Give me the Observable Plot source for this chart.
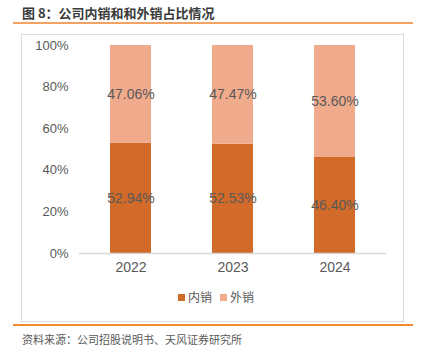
<!DOCTYPE html>
<html><head><meta charset="utf-8">
<script src="https://cdn.jsdelivr.net/npm/d3@7"></script>
<script src="https://cdn.jsdelivr.net/npm/@observablehq/plot@0.6"></script>
<style>
body{margin:0;background:#fff;font-family:"Liberation Sans",Arial,sans-serif;}
#wrap{position:relative;width:423px;height:355px;overflow:hidden;background:#fff;}
.abs{position:absolute;}
#title{left:22px;top:3px;font:bold 13px "Noto Sans CJK SC",sans-serif;color:#3a3a3a;white-space:nowrap;}
#src{left:22px;top:331px;font:11px "Noto Sans CJK SC",sans-serif;color:#595959;white-space:nowrap;}
#legend{left:0;top:288px;width:432px;text-align:center;font:12px "Noto Sans CJK SC",sans-serif;color:#595959;white-space:nowrap;}
#legend span.sw{display:inline-block;width:7px;height:7px;margin-right:3px;vertical-align:1px;}
#legend span.it{margin:0 4px;}
</style></head>
<body><div id="wrap">
<div class="abs" id="title">图 8：公司内销和和外销占比情况</div>
<div class="abs" style="left:13px;top:22px;width:400px;height:2px;background:#F2A262"></div>
<div class="abs" style="left:21px;top:34px;width:381px;height:286px;border:1px solid #DCDCDC;"></div>
<div class="abs" id="chart" style="left:0;top:0;"></div>
<div class="abs" id="legend"></div>
<div class="abs" style="left:13px;top:324px;width:400px;height:2px;background:#F28A30"></div>
<div class="abs" id="src">资料来源：公司招股说明书、天风证券研究所</div>
</div>
<script>
const years = ["2022","2023","2024"];
const domestic = [52.94, 52.53, 46.40];
const overseas = [47.06, 47.47, 53.60];
const seriesNames = ["内销","外销"];
const seriesColors = ["#D26B2A","#F0AA8C"];
const yTicks = [0,20,40,60,80,100];

const data = [];
years.forEach((y,i)=>{
  data.push({year:y, series:seriesNames[0], value:domestic[i]});
  data.push({year:y, series:seriesNames[1], value:overseas[i]});
});

const chart = Plot.plot({
  width:423, height:355,
  marginTop:45, marginBottom:102, marginLeft:79, marginRight:37,
  style:{fontFamily:"Liberation Sans, Arial, sans-serif", background:"transparent"},
  x:{domain:years, paddingInner:0.6, paddingOuter:0.3, align:0.5, label:null},
  y:{domain:[0,100], label:null},
  color:{domain:seriesNames, range:seriesColors},
  marks:[
    Plot.barY(data, Plot.stackY({x:"year", y:"value", fill:"series", z:"series", order:seriesNames})),
    Plot.ruleY([0], {stroke:"#D9D9D9", strokeWidth:1.5}),
    Plot.text(data, Plot.stackY({x:"year", y:"value", z:"series", order:seriesNames, text:d=>d.value.toFixed(2)+"%", fill:"#595959", fontSize:14})),
    Plot.axisY({ticks:yTicks, tickSize:0, tickPadding:11, tickFormat:d=>d+"%", fontSize:13, color:"#595959", label:null}),
    Plot.axisX({tickSize:0, tickPadding:9, fontSize:14, color:"#595959", label:null})
  ]
});
document.getElementById("chart").appendChild(chart);

const lg = document.getElementById("legend");
seriesNames.forEach((n,i)=>{
  const it = document.createElement("span"); it.className="it";
  const sw = document.createElement("span"); sw.className="sw"; sw.style.background=seriesColors[i];
  it.appendChild(sw); it.appendChild(document.createTextNode(n));
  lg.appendChild(it);
});
</script>
</body></html>
